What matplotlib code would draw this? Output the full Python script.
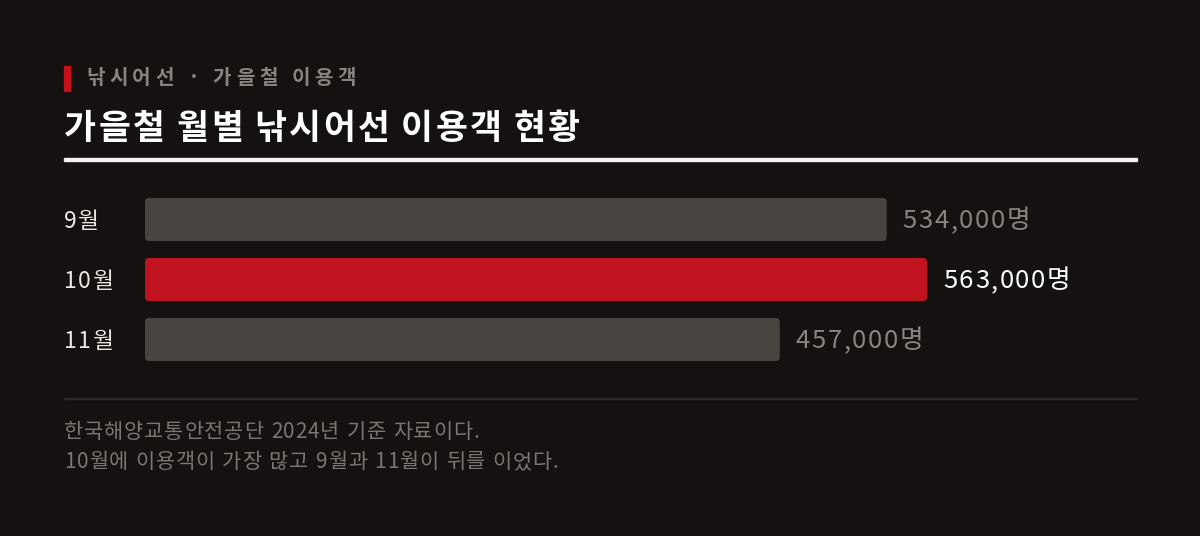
import matplotlib
matplotlib.use("Agg")
import matplotlib.pyplot as plt
from matplotlib.patches import FancyBboxPatch, Rectangle

plt.rcParams["font.family"] = ["Noto Sans CJK KR", "DejaVu Sans"]

# data
months = ["9월", "10월", "11월"]
visitors = [534000, 563000, 457000]
value_labels = ["534,000명", "563,000명", "457,000명"]
highlight = 1

kicker = "낚시어선 · 가을철 이용객"
title = "가을철 월별 낚시어선 이용객 현황"
notes = ["한국해양교통안전공단 2024년 기준 자료이다.",
         "10월에 이용객이 가장 많고 9월과 11월이 뒤를 이었다."]

BG = "#141110"
BAR_GREY = "#4a4440"
BAR_RED = "#c01320"
TXT_GREY = "#8a847f"
NOTE_GREY = "#7c7671"

W, H = 1200, 536
fig = plt.figure(figsize=(W / 100, H / 100), dpi=100, facecolor=BG)
renderer = fig.canvas.get_renderer()


def fx(px):
    return px / W


def fy(py):
    return 1 - py / H


def spaced_text(x, y, s, spacing, space_w, **kw):
    # draw text one glyph at a time so we can open up the tracking a bit
    for ch in s:
        if ch == " ":
            x += space_w
            continue
        t = fig.text(fx(x), fy(y), ch, va="center", ha="left", **kw)
        x += t.get_window_extent(renderer).width + spacing
    return x


# header
fig.patches.append(Rectangle((fx(64), fy(91)), fx(6), 25 / H, transform=fig.transFigure,
                             color="#c8101c", zorder=3))
spaced_text(86, 78, kicker, 4.6, 9, color=TXT_GREY, fontsize=14.5, fontweight="bold")
spaced_text(64, 128, title, 2.6, 8.5, color="white", fontsize=25, fontweight="bold")

fig.patches.append(Rectangle((fx(64), fy(161)), fx(1073), 3.5 / H, transform=fig.transFigure,
                             color="#f4f1ec", zorder=3))
fig.patches.append(Rectangle((fx(64), fy(398.5)), fx(1073), 1 / H, transform=fig.transFigure,
                             color="#2d2927", zorder=3))

# bars
ax_left, ax_right = 145, 1137
ax_top, ax_bot = 189.5, 369.5
ax = fig.add_axes([fx(ax_left), fy(ax_bot), fx(ax_right - ax_left), (ax_bot - ax_top) / H])
ax.set_facecolor("none")
px_per_unit = (927 - 145) / max(visitors)
ax.set_xlim(0, (ax_right - ax_left) / px_per_unit)
ax.set_ylim(2.5, -0.5)
ax.axis("off")

bar_h = 43 / 60
bars = ax.barh(range(len(months)), visitors, height=bar_h)
x_per_px = 1 / px_per_unit
y_per_px = 1 / 60
for i, b in enumerate(bars):
    x0, y0 = b.get_x(), b.get_y()
    w, h = b.get_width(), b.get_height()
    b.remove()
    color = BAR_RED if i == highlight else BAR_GREY
    ax.add_patch(FancyBboxPatch((x0, y0), w, h,
                                boxstyle=f"round,pad=0,rounding_size={4 * x_per_px}",
                                mutation_aspect=y_per_px / x_per_px,
                                facecolor=color, edgecolor="none"))

for i, (m, v, lab) in enumerate(zip(months, visitors, value_labels)):
    end_x, cy = ax.transData.transform((v, i))
    cy = H - cy + 1.5
    spaced_text(64, cy, m, 1.6, 6, color="#ece8e3", fontsize=16.5, fontweight="light")
    is_hi = i == highlight
    spaced_text(end_x + 16, cy, lab, 1.6, 6, color="white" if is_hi else TXT_GREY,
                fontsize=18.5, fontweight="medium" if is_hi else "regular")

# notes
for k, line in enumerate(notes):
    spaced_text(64, 432 + 30 * k, line, 0.9, 6.5, color=NOTE_GREY, fontsize=15,
                fontweight="light")

fig.savefig("out.png", dpi=100, facecolor=BG)
